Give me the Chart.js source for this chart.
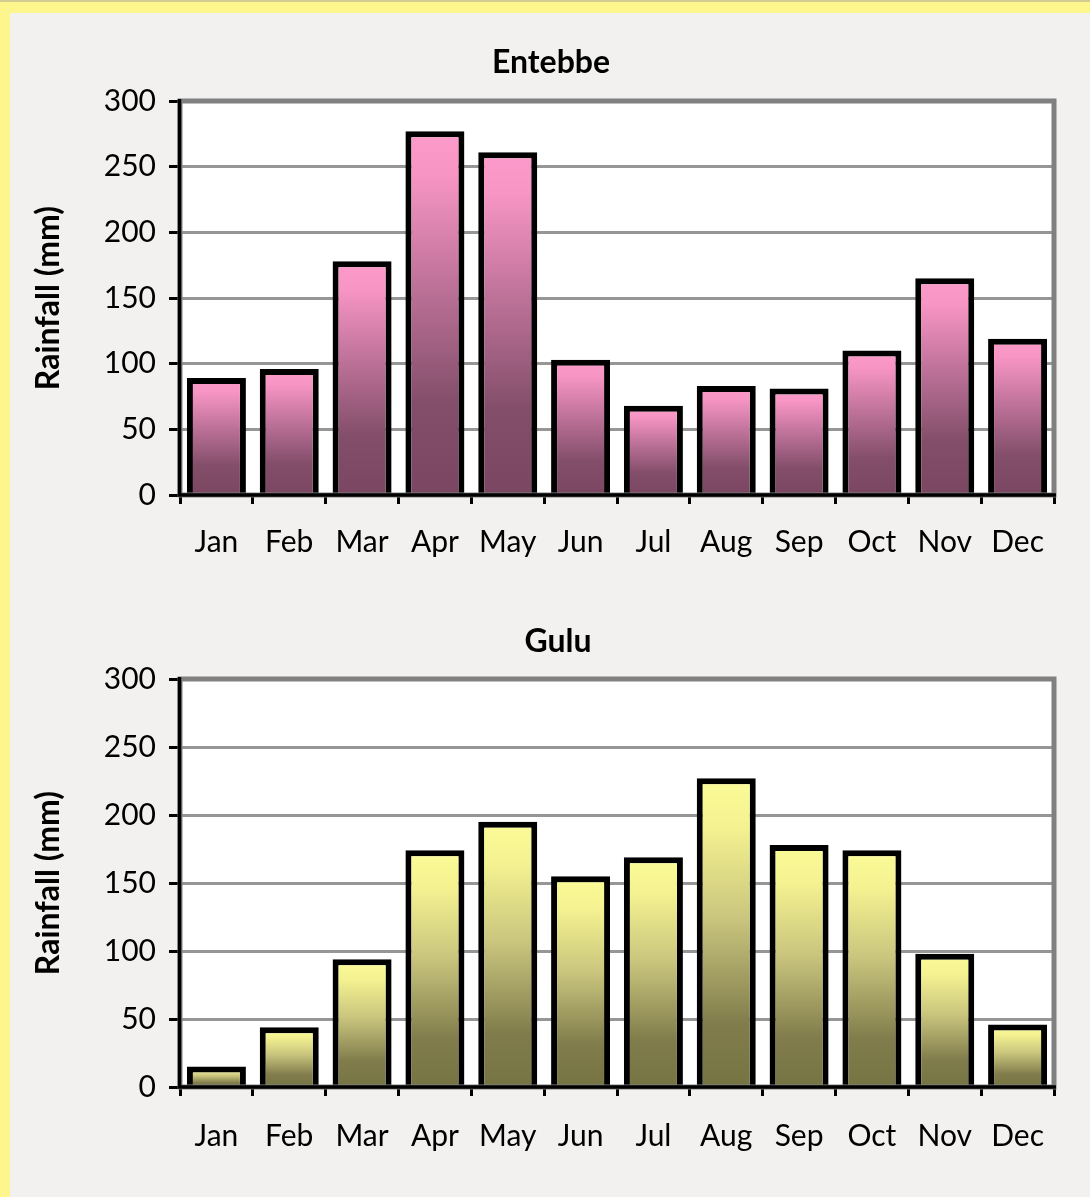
<!DOCTYPE html>
<html>
<head>
<meta charset="utf-8">
<script src="https://cdn.jsdelivr.net/npm/chart.js@4/dist/chart.umd.min.js"></script>
<style>
  html, body { margin: 0; padding: 0; }
  body { width: 1090px; height: 1197px; position: relative; overflow: hidden; background: #fdf68c; }
  #edge { position: absolute; left: 0; top: 0; width: 1090px; height: 2px; background: #d2cb93; }
  #panel { position: absolute; left: 10px; top: 13px; right: 0; bottom: 0; background: #f2f1ef; }
  canvas { position: absolute; left: 0; }
  #entebbe { top: 0; }
  #gulu { top: 590px; }
</style>
</head>
<body>
<div id="edge"></div>
<div id="panel"></div>
<canvas id="entebbe" width="1090" height="590"></canvas>
<canvas id="gulu" width="1090" height="607"></canvas>
<script>
// Monthly rainfall (mm) for two Ugandan stations
const months = ['Jan', 'Feb', 'Mar', 'Apr', 'May', 'Jun', 'Jul', 'Aug', 'Sep', 'Oct', 'Nov', 'Dec'];
const entebbeRain = [89, 96, 178, 277, 261, 103, 68, 83, 81, 110, 165, 119];
const guluRain = [15, 44, 94, 174, 195, 155, 169, 227, 178, 174, 98, 46];
const yMin = 0;
const yMax = 300;
const yStep = 50;

// Vertical fills, light at the top of each bar fading darker to the base
const pinkStops = [[0, '#fc9acb'], [0.12, '#f795c4'], [0.45, '#b96f95'], [0.75, '#834e6a'], [1, '#7a4662']];
const oliveStops = [[0, '#fbfb98'], [0.15, '#f5f391'], [0.45, '#cac67e'], [0.8, '#807c4b'], [1, '#777444']];

Chart.defaults.font.family = 'Lato';
Chart.defaults.color = '#000';

// White plot area, grey frame and black axes
const framePlugin = {
  id: 'frame',
  beforeDraw(chart) {
    const { ctx, chartArea: a } = chart;
    ctx.save();
    ctx.fillStyle = '#ffffff';
    ctx.fillRect(a.left, a.top, a.right - a.left, a.bottom - a.top);
    ctx.restore();
  },
  afterDraw(chart) {
    const { ctx, chartArea: a } = chart;
    ctx.save();
    ctx.strokeStyle = '#808080';
    ctx.lineWidth = 5;
    ctx.strokeRect(a.left, a.top, a.right - a.left, a.bottom - a.top);
    ctx.strokeStyle = '#000';
    ctx.lineWidth = 3.5;
    ctx.beginPath();
    ctx.moveTo(a.left - 0.5, a.top - 2);
    ctx.lineTo(a.left - 0.5, a.bottom);
    ctx.lineTo(a.right + 2, a.bottom);
    ctx.stroke();
    ctx.restore();
  }
};

function gradientFill(stops) {
  return function (c) {
    const chart = c.chart;
    if (!chart.chartArea || c.type !== 'data') return stops[0][1];
    const ys = chart.scales.y;
    const top = ys.getPixelForValue(c.parsed.y);
    const base = ys.getPixelForValue(0);
    const g = chart.ctx.createLinearGradient(0, top, 0, base);
    stops.forEach(([o, col]) => g.addColorStop(o, col));
    return g;
  };
}

function makeChart(id, title, values, stops, lay) {
  return new Chart(document.getElementById(id), {
    type: 'bar',
    data: {
      labels: months,
      datasets: [{
        data: values,
        backgroundColor: gradientFill(stops),
        borderColor: '#000',
        borderWidth: 6,
        borderSkipped: 'start',
        barPercentage: 0.81,
        categoryPercentage: 1
      }]
    },
    options: {
      responsive: false,
      animation: false,
      events: [],
      layout: { padding: { left: lay.padLeft, right: 36, top: 0, bottom: 0 } },
      plugins: {
        legend: { display: false },
        tooltip: { enabled: false },
        title: {
          display: true,
          text: title,
          color: '#000',
          font: { family: 'Lato', size: 32, weight: 'bold', lineHeight: 1.2 },
          padding: { top: lay.titleTop, bottom: lay.titleBottom }
        }
      },
      scales: {
        x: {
          offset: true,
          grid: { offset: true, drawOnChartArea: false, drawTicks: true, tickLength: 9, tickColor: '#000', tickWidth: 3 },
          border: { display: false },
          ticks: { font: { size: 30 }, color: '#000', padding: lay.xPad, maxRotation: 0, autoSkip: false },
          afterFit(s) { s.height = lay.xHeight; }
        },
        y: {
          min: yMin,
          max: yMax,
          ticks: { stepSize: yStep, font: { size: 30 }, color: '#000', padding: 13 },
          grid: { color: '#969696', lineWidth: 3, tickColor: '#000', tickWidth: 3, tickLength: 11 },
          border: { display: false },
          title: {
            display: true,
            text: 'Rainfall (mm)',
            color: '#000',
            font: { family: 'Lato', size: 32, weight: 'bold', lineHeight: 1.2 },
            padding: { top: lay.yTitleShift, bottom: 0 }
          },
          afterFit(s) { s.width = 180 - lay.padLeft; }
        }
      }
    },
    plugins: [framePlugin]
  });
}

makeChart('entebbe', 'Entebbe', entebbeRain, pinkStops,
  { padLeft: 48, titleTop: 43, titleBottom: 19.6, xHeight: 95, xPad: 20, yTitleShift: -19 });
makeChart('gulu', 'Gulu', guluRain, oliveStops,
  { padLeft: 62, titleTop: 32, titleBottom: 18.6, xHeight: 110, xPad: 22, yTitleShift: -33 });
</script>
</body>
</html>
